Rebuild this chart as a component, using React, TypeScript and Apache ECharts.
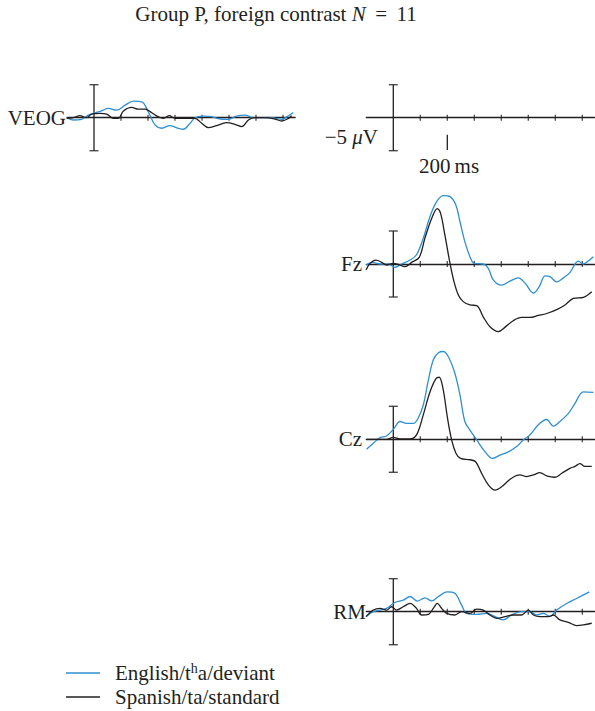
import React, { useEffect, useRef } from "react";
import * as echarts from "echarts";

// ---------- data (ms, µV; positive drawn upward) ----------
const TICKS_MS = [100, 200, 300, 400, 500, 600, 700];
const SCALE_UV = 5;
const SCALE_MARK_MS = 200;
const CHANNELS = ["VEOG", "", "Fz", "Cz", "RM"];

const VEOG_ENGLISH = [
  [-101, 0], [-77, -0.35], [-46, -0.25], [-21, 0.4], [4, 0.75], [28, 1.05], [53, 1.4], [84, 1.15],
  [115, 1.9], [146, 2.5], [177, 2.4], [201, 0.9], [226, -1.1], [251, -1.6], [281, -1.2], [312, -1.6],
  [331, -1.75], [356, -0.85], [374, 0], [405, 0.25], [436, 0.15], [467, -0.2], [498, -0.25], [528, 0.25],
  [559, 0.4], [590, 0], [627, 0], [658, 0], [695, -0.25], [720, 0.3], [738, 0.8],
];
const VEOG_SPANISH = [
  [-101, -0.1], [-77, 0], [-52, 0.3], [-27, 0], [-9, 0.55], [22, 0.65], [47, 0.55], [72, -0.1],
  [90, -0.1], [109, 1.0], [140, 1.55], [164, 1.3], [189, 1.3], [214, 0.75], [238, 0.15], [257, -0.1],
  [279, 0.3], [300, -0.1], [337, -0.1], [374, -0.1], [399, -0.85], [423, -1.5], [454, -1.2], [491, -0.75],
  [522, -1.0], [547, -1.35], [572, -0.35], [596, 0], [633, 0], [670, -0.2], [695, -0.5], [720, -0.1], [732, 0.3],
];
const FZ_ENGLISH = [
  [-101, -0.15], [-79, 0.25], [-49, 0], [-18, 0], [6, -0.5], [31, 0], [62, 0.6], [86, 1.4], [111, 3.9],
  [136, 7.2], [160, 9.4], [185, 10.35], [210, 10.2], [232, 8.9], [247, 6.4], [265, 3.4], [284, 1.1],
  [299, 0.1], [333, 0], [352, -0.65], [370, -2.4], [401, -3.2], [432, -2.6], [463, -2.1], [488, -2.9],
  [519, -4.4], [541, -3.4], [562, -1.8], [580, -1.9], [605, -2.7], [630, -2.1], [654, -1.3], [685, 0.45],
  [704, 0], [722, 0.45], [741, 1.1],
];
const FZ_SPANISH = [
  [-101, -0.9], [-86, 0.1], [-64, 0.6], [-43, 0.25], [-25, -0.15], [0, 0.1], [18, -0.05], [43, -0.4],
  [68, 0.25], [96, 1.0], [117, 3.9], [142, 6.9], [163, 8.4], [175, 7.7], [191, 4.4], [210, 0.1],
  [225, -2.7], [241, -4.7], [259, -5.7], [284, -6.2], [309, -6.3], [333, -8.0], [358, -9.5], [389, -10.25],
  [413, -9.6], [444, -8.6], [475, -8.1], [506, -8.1], [537, -7.8], [568, -7.5], [605, -6.9], [636, -6.2],
  [667, -5.2], [704, -5.05], [735, -4.2],
];
const CZ_ENGLISH = [
  [-99, -1.5], [-74, -0.6], [-49, 0.25], [-25, 0.5], [0, 1.5], [25, 2.7], [49, 2.4], [74, 2.4], [92, 3.2],
  [111, 5.2], [130, 9.0], [148, 12.0], [167, 13.1], [185, 13.3], [204, 12.5], [228, 10], [247, 6.7],
  [265, 2.7], [284, 1.4], [309, -0.1], [340, -1.9], [367, -2.9], [395, -2.4], [426, -1.9], [457, -1.1],
  [481, -0.1], [506, 0.65], [537, 2.2], [568, 3.0], [593, 2.0], [617, 2.7], [648, 3.9], [673, 5.45],
  [704, 7.2], [741, 7.1],
];
const CZ_SPANISH = [
  [-99, 0], [-25, 0], [0, 0.3], [25, 0.05], [68, 0.1], [89, 0.9], [111, 3.7], [136, 7.2], [158, 9.2],
  [170, 9.4], [185, 7.5], [200, 3.4], [216, -0.1], [232, -2.1], [249, -2.9], [284, -3.1], [305, -3.4],
  [327, -5.15], [352, -6.9], [377, -7.7], [401, -7.2], [438, -5.9], [469, -5.4], [494, -5.65], [519, -5.4],
  [543, -5.05], [568, -5.55], [599, -5.75], [624, -5.15], [654, -4.4], [673, -4.1], [691, -3.7], [710, -4.1],
  [735, -4.1],
];
const RM_ENGLISH = [
  [-101, -0.75], [-74, 0], [-49, 0.25], [-25, 0.5], [6, 1.4], [37, 1.75], [62, 2.3], [89, 1.6], [117, 2.1],
  [142, 1.65], [167, 2.3], [198, 3.0], [228, 2.8], [253, 1.0], [272, -0.25], [309, -0.4], [346, -0.25],
  [377, -0.75], [407, -1.25], [438, -0.5], [475, 0], [506, 0], [531, -0.5], [556, -0.25], [580, -0.75],
  [605, 0.25], [642, 1.25], [679, 2.0], [726, 3.0],
];
const RM_SPANISH = [
  [-101, -0.75], [-74, 0.25], [-49, 0.5], [-25, 0.25], [-6, 0.75], [12, 0.25], [37, 0.75], [62, 1.25],
  [86, 0.5], [105, -0.5], [130, -0.4], [148, 0.5], [163, 1.25], [179, 0.5], [198, -0.25], [228, -0.5],
  [253, 0], [284, -0.25], [309, 0.4], [333, 0.25], [358, -0.5], [383, -1.0], [414, -0.75], [444, -0.5],
  [475, -0.5], [500, 0.25], [519, -0.5], [543, -0.75], [574, -0.75], [593, -0.5], [617, -1.25], [648, -1.6],
  [679, -2.1], [704, -2.0], [735, -1.75],
];
const ENGLISH = [VEOG_ENGLISH, null, FZ_ENGLISH, CZ_ENGLISH, RM_ENGLISH];
const SPANISH = [VEOG_SPANISH, null, FZ_SPANISH, CZ_SPANISH, RM_SPANISH];

// ---------- layout & style ----------
const W = 595;
const H = 711;
const X_MIN = -100;
const X_MAX = 745;
const PX_PER_MS = 0.27;
const Y_MIN = -15;
const Y_MAX = 15;
const PX_PER_UV = 6.6;
const GRID_W = (X_MAX - X_MIN) * PX_PER_MS;
const GRID_H = (Y_MAX - Y_MIN) * PX_PER_UV;
const PANEL_LEFT = [67, 366.3, 366.3, 366.3, 366.3];
const PANEL_AXIS_Y = [117.7, 117.7, 264, 439.3, 611.7];
const LABEL_RIGHT = [66, 0, 362, 362, 366];
const BLUE = "#2f8fd2";
const BLACK = "#231f20";
const FONT = "'Liberation Serif', 'DejaVu Serif', serif";
const FS = 21;

function buildOption() {
  const grid: any[] = [];
  const xAxis: any[] = [];
  const yAxis: any[] = [];
  const series: any[] = [];
  const graphic: any[] = [];

  PANEL_LEFT.forEach((left, i) => {
    const axisY = PANEL_AXIS_Y[i];
    grid.push({ left, top: axisY - Y_MAX * PX_PER_UV, width: GRID_W, height: GRID_H });
    xAxis.push({
      type: "value", gridIndex: i, min: X_MIN, max: X_MAX,
      axisLine: { show: true, onZero: true, lineStyle: { color: BLACK, width: 1.3 } },
      axisTick: { show: false }, axisLabel: { show: false }, splitLine: { show: false },
    });
    yAxis.push({ type: "value", gridIndex: i, min: Y_MIN, max: Y_MAX, show: false });

    const common = { xAxisIndex: i, yAxisIndex: i, silent: true, clip: false };
    series.push({
      ...common, type: "scatter", symbol: "rect", symbolSize: [1.3, 6],
      itemStyle: { color: BLACK }, data: TICKS_MS.map((t) => [t, 0]), z: 3,
    });
    series.push({
      ...common, type: "line", symbol: "none", lineStyle: { color: BLACK, width: 1.3 },
      data: [[0, -SCALE_UV], [0, SCALE_UV]], z: 3,
    });
    series.push({
      ...common, type: "scatter", symbol: "rect", symbolSize: [9, 1.4],
      itemStyle: { color: BLACK }, data: [[0, -SCALE_UV], [0, SCALE_UV]], z: 3,
    });
    if (ENGLISH[i]) {
      series.push({
        ...common, type: "line", symbol: "none", smooth: 0.35,
        lineStyle: { color: BLUE, width: 1.3 }, data: ENGLISH[i], z: 4,
      });
      series.push({
        ...common, type: "line", symbol: "none", smooth: 0.35,
        lineStyle: { color: BLACK, width: 1.3 }, data: SPANISH[i], z: 5,
      });
    }
    if (CHANNELS[i]) {
      graphic.push({
        type: "text", x: LABEL_RIGHT[i], y: axisY,
        style: { text: CHANNELS[i], font: `${FS}px ${FONT}`, fill: BLACK, align: "right", verticalAlign: "middle" },
      });
    }
  });

  // 200 ms marker in the calibration panel
  series.push({
    type: "line", xAxisIndex: 1, yAxisIndex: 1, symbol: "none", silent: true, clip: false,
    lineStyle: { color: BLACK, width: 1.3 },
    data: [[SCALE_MARK_MS, -2.6], [SCALE_MARK_MS, -4.9]],
  });

  graphic.push(
    {
      type: "text", x: 276, y: 14,
      style: {
        text: "{n|Group P, foreign contrast }{i|N}{n| \u2009=\u2009 11}",
        align: "center", verticalAlign: "middle", fill: BLACK,
        rich: {
          n: { fontFamily: FONT, fontSize: FS, fill: BLACK },
          i: { fontFamily: FONT, fontSize: FS, fontStyle: "italic", fill: BLACK },
        },
      },
    },
    {
      type: "text", x: 378, y: 137,
      style: {
        text: "{n|\u22125 }{i|\u03bc}{n|V}",
        align: "right", verticalAlign: "middle", fill: BLACK,
        rich: {
          n: { fontFamily: FONT, fontSize: FS, fill: BLACK },
          i: { fontFamily: FONT, fontSize: FS, fontStyle: "italic", fill: BLACK },
        },
      },
    },
    {
      type: "text", x: 449, y: 166,
      style: { text: "200\u2009ms", font: `${FS}px ${FONT}`, fill: BLACK, align: "center", verticalAlign: "middle" },
    },
    { type: "line", shape: { x1: 66, y1: 673, x2: 100, y2: 673 }, style: { stroke: BLUE, lineWidth: 1.3 } },
    { type: "line", shape: { x1: 66, y1: 697, x2: 100, y2: 697 }, style: { stroke: BLACK, lineWidth: 1.3 } },
    {
      type: "text", x: 115, y: 673,
      style: {
        text: "{n|English/t}{s|h}{n|a/deviant}",
        align: "left", verticalAlign: "middle", fill: BLACK,
        rich: {
          n: { fontFamily: FONT, fontSize: FS, fill: BLACK, lineHeight: 24 },
          s: { fontFamily: FONT, fontSize: 14, fill: BLACK, verticalAlign: "top", lineHeight: 14 },
        },
      },
    },
    {
      type: "text", x: 115, y: 697,
      style: { text: "Spanish/ta/standard", font: `${FS}px ${FONT}`, fill: BLACK, align: "left", verticalAlign: "middle" },
    }
  );

  return { animation: false, backgroundColor: "#ffffff", grid, xAxis, yAxis, series, graphic };
}

export default function App() {
  const ref = useRef<HTMLDivElement>(null);
  useEffect(() => {
    if (!ref.current) return;
    const chart = echarts.init(ref.current, null, { renderer: "svg" });
    chart.setOption(buildOption());
    return () => chart.dispose();
  }, []);
  return (
    <div
      ref={ref}
      style={{ position: "absolute", left: 0, top: 0, width: W, height: H, background: "#fff" }}
    />
  );
}
